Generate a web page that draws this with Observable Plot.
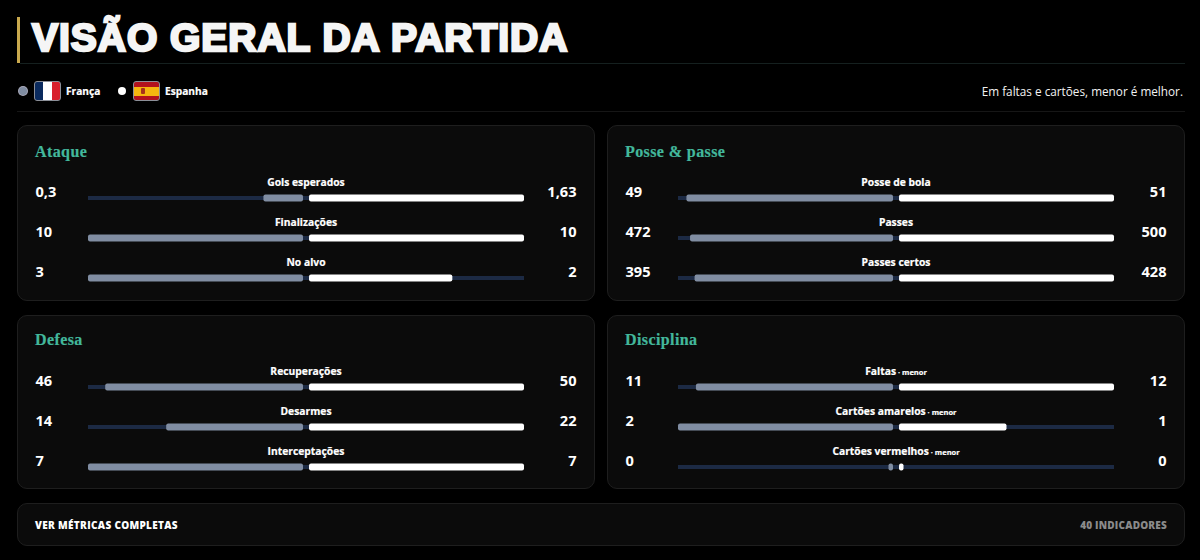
<!DOCTYPE html>
<html lang="pt"><head><meta charset="utf-8">
<script src="https://cdn.jsdelivr.net/npm/d3@7"></script>
<script src="https://cdn.jsdelivr.net/npm/@observablehq/plot@0.6"></script>
<style>
html,body{margin:0;padding:0;background:#000;width:1200px;height:560px;overflow:hidden}
body{position:relative;font-family:"Open Sans",sans-serif;color:#fff}
.abs{position:absolute}
.card{position:absolute;box-sizing:border-box;background:#0b0b0b;border:1px solid #1e1e1e;border-radius:10px}
.card svg{position:absolute;left:-1px;top:-1px;background:transparent;overflow:visible;max-width:none!important;height:auto}
.card h2{position:absolute;left:17px;margin:0;font:700 16px "Liberation Serif",serif;color:#43b89c;white-space:nowrap;letter-spacing:.4px;-webkit-text-stroke:.2px #43b89c}
#title{left:32px;top:16px;font:900 39px "Liberation Sans",sans-serif;letter-spacing:.97px;color:#f5f5f5;-webkit-text-stroke:2.5px #f5f5f5;white-space:nowrap}
.leg{font-size:10.2px;font-weight:700;top:84px;white-space:nowrap;-webkit-text-stroke:.2px #fff}
.dot{width:8px;height:8px;border-radius:50%;top:87px}
.flag{width:25px;height:18px;top:81px;border-radius:3px;border:1px solid #8b8f98;overflow:hidden;box-sizing:content-box}
</style></head><body>
<div class="abs" style="left:17px;top:17px;width:3px;height:46px;background:#c9a94e"></div>
<div class="abs" id="title">VISÃO GERAL DA PARTIDA</div>
<div class="abs" style="left:20px;top:63px;width:1165px;height:1px;background:#15201f"></div>
<div class="abs dot" style="left:19px;background:#808da2;box-shadow:0 0 0 1px #aab"></div>
<div class="abs flag" style="left:34px;background:linear-gradient(90deg,#0a2a5e 0 33.3%,#fff 33.3% 66.6%,#d8202c 66.6%)"></div>
<div class="abs leg" style="left:66px">França</div>
<div class="abs dot" style="left:118px;background:#fff"></div>
<div class="abs flag" style="left:133px;background:linear-gradient(180deg,#b3121d 0 25%,#f5b60f 25% 75%,#b3121d 75%)"><div class="abs" style="left:7px;top:6px;width:4px;height:6px;background:#a8321a;border-radius:1px"></div></div>
<div class="abs leg" style="left:165px">Espanha</div>
<div class="abs" style="right:17px;top:83px;font-size:11.75px;color:#f2f2f2;white-space:nowrap">Em faltas e cartões, menor é melhor.</div>
<div class="abs" style="left:17px;top:111px;width:1168px;height:1px;background:#161616"></div>
<div id="cards"></div>
<div class="card" style="left:17px;top:503px;width:1168px;height:43px">
  <div class="abs" style="left:17px;top:14px;font-size:10px;font-weight:800;letter-spacing:.32px;white-space:nowrap">VER MÉTRICAS COMPLETAS</div>
  <div class="abs" style="right:17px;top:14px;font-size:10px;font-weight:800;color:#8a8a8a;letter-spacing:.2px;white-space:nowrap">40 INDICADORES</div>
</div>
<script>
// Dados
const ataqueMetricas = ["Gols esperados", "Finalizações", "No alvo"];
const ataqueFranca = [0.3, 10, 3];
const ataqueEspanha = [1.63, 10, 2];
const posseMetricas = ["Posse de bola", "Passes", "Passes certos"];
const posseFranca = [49, 472, 395];
const posseEspanha = [51, 500, 428];
const defesaMetricas = ["Recuperações", "Desarmes", "Interceptações"];
const defesaFranca = [46, 14, 7];
const defesaEspanha = [50, 22, 7];
const disciplinaMetricas = ["Faltas · menor", "Cartões amarelos · menor", "Cartões vermelhos · menor"];
const disciplinaFranca = [11, 2, 0];
const disciplinaEspanha = [12, 1, 0];

const corFranca = "#808da2", corEspanha = "#ffffff", corTrilho = "#1c2a44";
const GAP = 3 / 215, MIN = 0.021;
const fmt = new Intl.NumberFormat("pt-BR", {maximumFractionDigits: 2});

function painel(nome, metricas, fr, es, left, top, h, yr, hy) {
  const rows = metricas.map((m, i) => {
    const mx = Math.max(fr[i], es[i]) || 1;
    return {m, fr: fr[i], es: es[i],
      fl: -GAP - Math.max(fr[i] / mx, MIN), er: GAP + Math.max(es[i] / mx, MIN)};
  });
  const barOpts = {y: "m", rx: 2, insetTop: 16.4, insetBottom: 16.4};
  const plot = Plot.plot({
    width: 578, height: h, margin: 0,
    x: {domain: [-1 - GAP, 1 + GAP], range: [71, 507], axis: null},
    y: {type: "band", domain: metricas, range: yr, padding: 0, axis: null},
    style: {background: "transparent", fontFamily: "'Open Sans',sans-serif", color: "#fff", maxWidth: "none"},
    marks: [
      Plot.barX(rows, {x1: () => -1 - GAP, x2: () => 1 + GAP, y: "m", fill: corTrilho, insetTop: 18, insetBottom: 18}),
      Plot.barX(rows, {x1: "fl", x2: () => -GAP, fill: corFranca, ...barOpts}),
      Plot.barX(rows, {x1: () => GAP, x2: "er", fill: corEspanha, ...barOpts}),
      Plot.text(rows, {text: "m", y: "m", frameAnchor: "middle", dx: -0.5, dy: -16.2, fill: "#fff", stroke: "#fff", strokeWidth: 0.2, fontSize: 10.3, fontWeight: 700, className: "rotulo"}),
      Plot.text(rows, {text: d => fmt.format(d.fr), y: "m", frameAnchor: "left", textAnchor: "start", dx: 18, dy: -5.7, fill: "#fff", fontSize: 14.6, fontWeight: 700}),
      Plot.text(rows, {text: d => fmt.format(d.es), y: "m", frameAnchor: "right", textAnchor: "end", dx: -19, dy: -5.7, fill: "#fff", fontSize: 14.6, fontWeight: 700})
    ]
  });
  d3.select(plot).selectAll(".rotulo text").each(function () {
    const t = this.textContent, k = t.indexOf(" · ");
    if (k < 0) return;
    const s = d3.select(this).text(null);
    s.append("tspan").text(t.slice(0, k));
    s.append("tspan").attr("font-size", 7.5).attr("font-weight", 700).text(t.slice(k));
  });
  const c = d3.select("#cards").append("div").attr("class", "card")
    .style("left", left + "px").style("top", top + "px").style("width", "578px").style("height", h + "px");
  c.append("h2").style("top", hy + "px").text(nome);
  c.node().appendChild(plot);
}
painel("Ataque", ataqueMetricas, ataqueFranca, ataqueEspanha, 17, 125, 176, [52.6, 174.1], 17);
painel("Posse & passe", posseMetricas, posseFranca, posseEspanha, 607, 125, 176, [52.6, 174.1], 17);
painel("Defesa", defesaMetricas, defesaFranca, defesaEspanha, 17, 315, 174, [51.2, 172.7], 15);
painel("Disciplina", disciplinaMetricas, disciplinaFranca, disciplinaEspanha, 607, 315, 174, [51.2, 172.7], 15);
</script>
</body></html>
